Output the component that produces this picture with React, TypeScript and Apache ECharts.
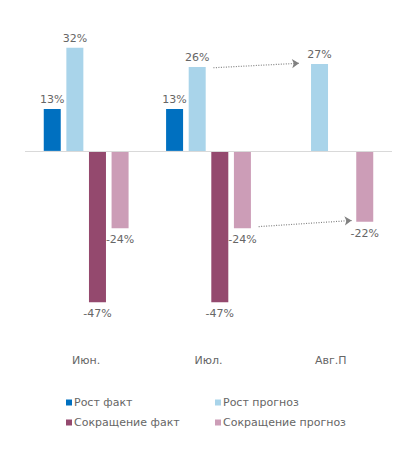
import React, { useEffect, useRef } from "react";
import * as echarts from "echarts";

const categories = ["Июн.", "Июл.", "Авг.П"];
const growthFact = [13, 13, null];
const growthForecast = [32, 26, 27];
const cutFact = [-47, -47, null];
const cutForecast = [-24, -24, -22];
const seriesNames = ["Рост факт", "Рост прогноз", "Сокращение факт", "Сокращение прогноз"];
const seriesColors = ["#0070c0", "#a9d4ea", "#94496e", "#cc9db7"];
// arrows in (category position, value) space
const arrowGrowth = [[1.04, 25.8], [1.74, 27.2]];
const arrowCut = [[1.41, -23.5], [2.17, -21.6]];

const FONT = "DejaVu Sans";
const TXT = "#666666";

export default function App() {
  const ref = useRef<HTMLDivElement>(null);
  useEffect(() => {
    document.body.style.margin = "0";
    const chart = echarts.init(ref.current!, null, { renderer: "svg" });
    const label = (pos: string) => ({
      show: true,
      position: pos,
      distance: pos === "top" ? 4 : 6,
      formatter: "{c}%",
      color: TXT,
      fontSize: 11,
      fontFamily: FONT,
    });
    const bar = (i: number, data: (number | null)[], pos: string) => ({
      name: seriesNames[i],
      type: "bar",
      data,
      barWidth: 17,
      barGap: "33%",
      itemStyle: { color: seriesColors[i] },
      label: label(pos),
    });
    const legendText = { color: TXT, fontSize: 11, fontFamily: FONT, padding: [0, 0, 0, -3] };
    chart.setOption({
      animation: false,
      grid: { left: 25, right: 1, top: 22, height: 290 },
      legend: [
        {
          orient: "vertical",
          left: 61,
          top: 392,
          itemWidth: 6,
          itemHeight: 6,
          itemGap: 9,
          icon: "rect",
          data: [seriesNames[0], seriesNames[2]],
          textStyle: legendText,
        },
        {
          orient: "vertical",
          left: 210,
          top: 392,
          itemWidth: 6,
          itemHeight: 6,
          itemGap: 9,
          icon: "rect",
          data: [seriesNames[1], seriesNames[3]],
          textStyle: legendText,
        },
      ],
      xAxis: [
        {
          type: "category",
          data: categories,
          axisLine: { show: false },
          axisTick: { show: false },
          axisLabel: { margin: 43, color: TXT, fontSize: 11, fontFamily: FONT },
        },
        { type: "value", min: -0.5, max: 2.5, show: false },
      ],
      yAxis: { type: "value", min: -50, max: 40, show: false, splitLine: { show: false } },
      series: [
        bar(0, growthFact, "top"),
        bar(1, growthForecast, "top"),
        bar(2, cutFact, "bottom"),
        bar(3, cutForecast, "bottom"),
        {
          type: "line",
          xAxisIndex: 1,
          data: [],
          silent: true,
          markLine: {
            silent: true,
            symbol: "none",
            label: { show: false },
            lineStyle: { color: "#d9d9d9", width: 1, type: "solid" },
            data: [{ yAxis: 0 }],
          },
        },
        {
          type: "line",
          xAxisIndex: 1,
          data: [],
          silent: true,
          markLine: {
            silent: true,
            symbol: ["none", "arrow"],
            symbolSize: 7,
            label: { show: false },
            lineStyle: { color: "#808080", width: 1.2, type: [1, 1.5] },
            data: [
              [{ coord: arrowGrowth[0] }, { coord: arrowGrowth[1] }],
              [{ coord: arrowCut[0] }, { coord: arrowCut[1] }],
            ],
          },
        },
      ],
    });
    return () => chart.dispose();
  }, []);
  return <div ref={ref} style={{ width: 393, height: 450, position: "absolute", left: 0, top: 0 }} />;
}
